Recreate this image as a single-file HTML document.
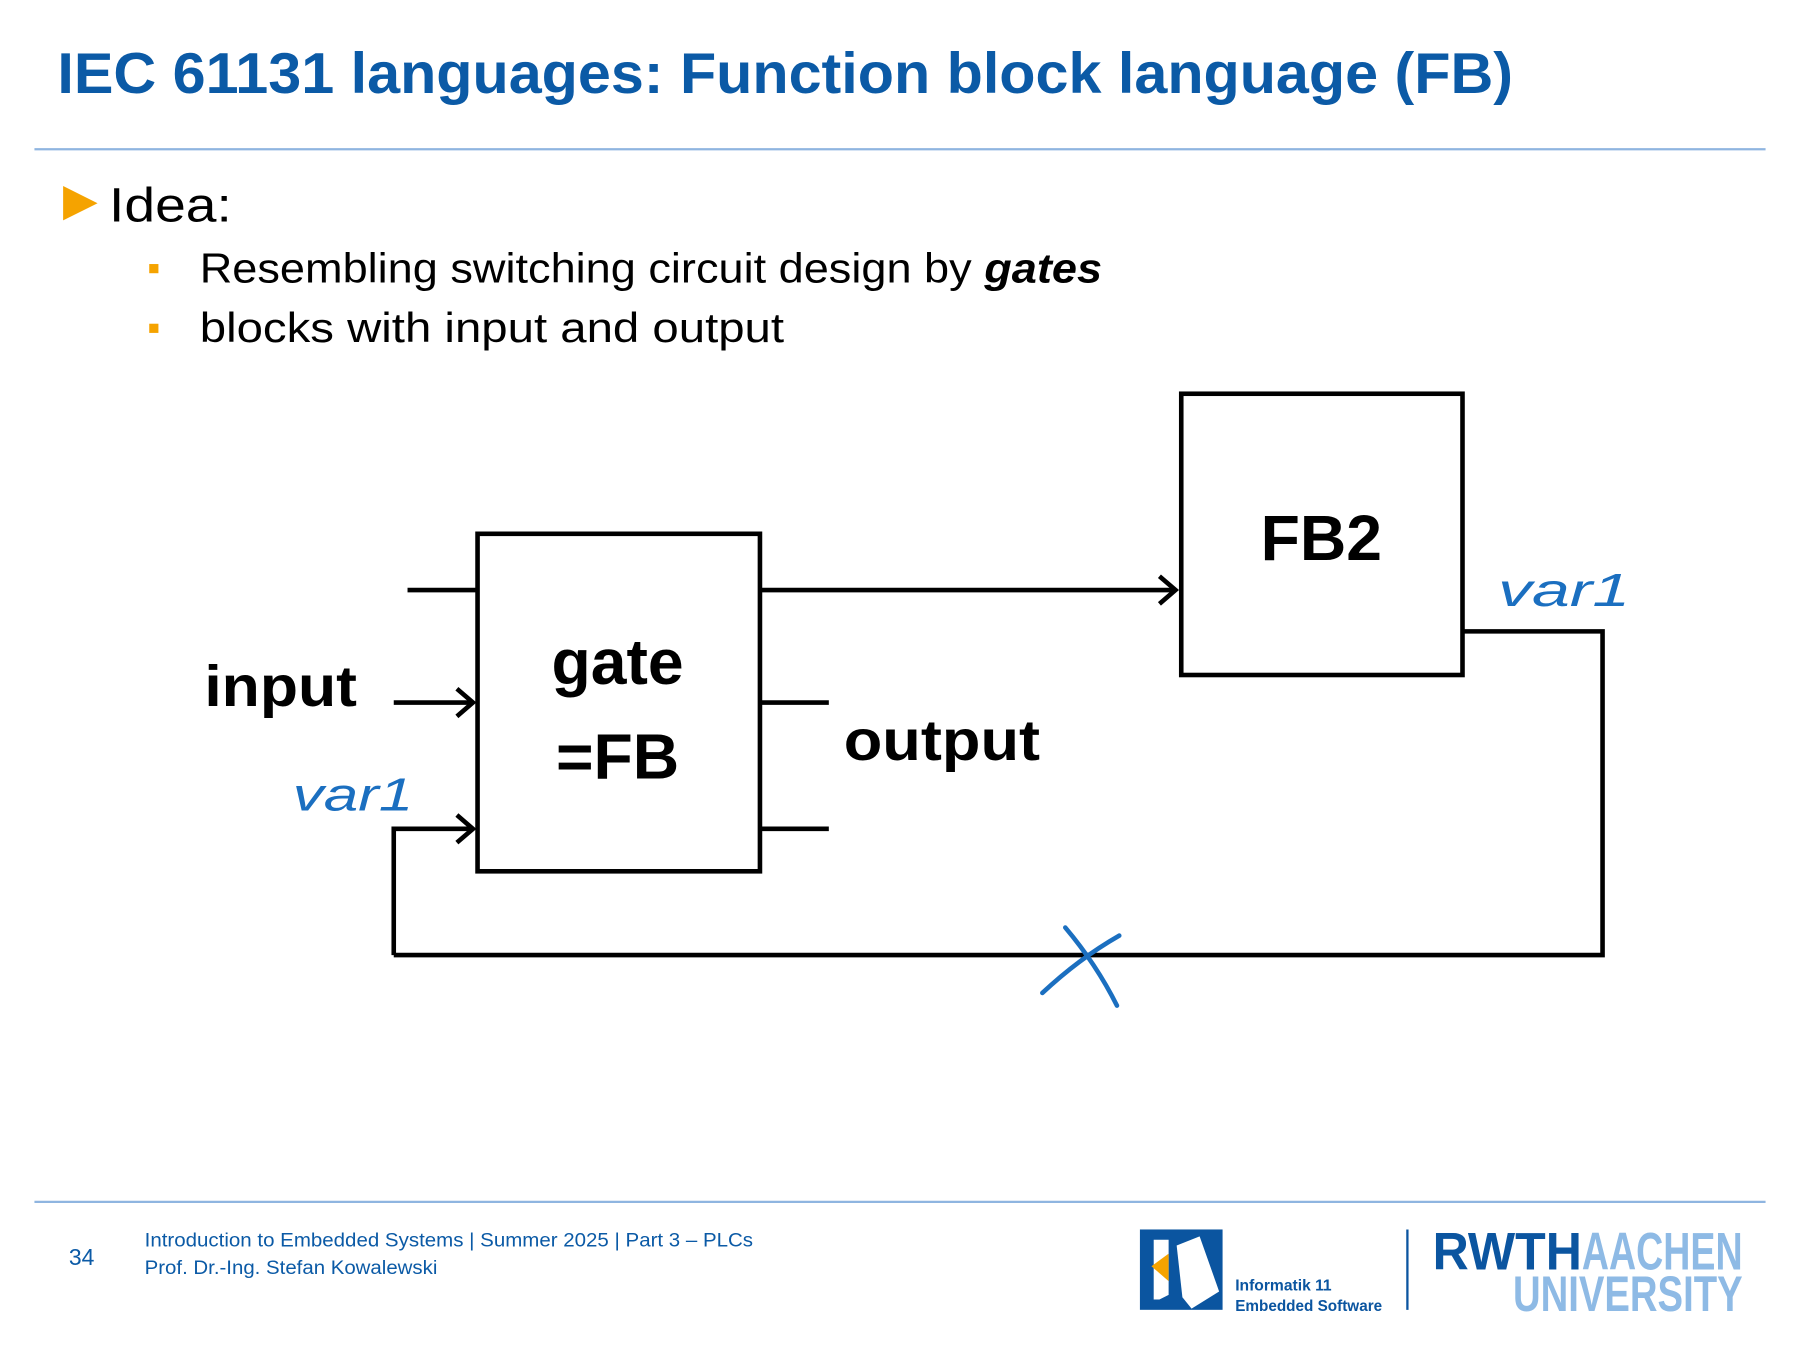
<!DOCTYPE html>
<html><head><meta charset="utf-8"><style>html,body{margin:0;padding:0;background:#fff}svg{display:block}</style></head>
<body>
<svg width="1800" height="1350" viewBox="0 0 1568 1176" xmlns="http://www.w3.org/2000/svg" font-family="Liberation Sans, sans-serif">
<rect width="1568" height="1176" fill="#fff"/>
<text x="50" y="81" font-size="50" font-weight="bold" fill="#0b5aa6" textLength="1268" lengthAdjust="spacingAndGlyphs">IEC 61131 languages: Function block language (FB)</text>
<line x1="30" y1="130" x2="1538" y2="130" stroke="#8fb5e0" stroke-width="2"/>
<polygon points="55,162 85,177 55,192" fill="#f5a300"/>
<text x="95" y="193" font-size="42" fill="#000" textLength="107" lengthAdjust="spacingAndGlyphs">Idea:</text>
<rect x="130" y="230" width="8" height="8" fill="#f5a300"/>
<rect x="130" y="282" width="8" height="8" fill="#f5a300"/>
<text x="174" y="246" font-size="36" fill="#000" textLength="786" lengthAdjust="spacingAndGlyphs">Resembling switching circuit design by <tspan font-weight="bold" font-style="italic">gates</tspan></text>
<text x="174" y="298" font-size="36" fill="#000" textLength="509" lengthAdjust="spacingAndGlyphs">blocks with input and output</text>
<g stroke="#000" stroke-width="4" fill="none">
<rect x="416" y="465" width="246" height="294"/>
<rect x="1029" y="343" width="245" height="245"/>
<line x1="355" y1="514" x2="416" y2="514"/>
<line x1="343" y1="612" x2="412" y2="612"/>
<polyline points="398,600 412,612 398,624"/>
<polyline points="343,832 343,722 412,722"/>
<polyline points="398,710 412,722 398,734"/>
<line x1="662" y1="612" x2="722" y2="612"/>
<line x1="662" y1="722" x2="722" y2="722"/>
<line x1="662" y1="514" x2="1024" y2="514"/>
<polyline points="1010,502 1024,514 1010,526"/>
<polyline points="1274,550 1396,550 1396,832 343,832"/>
</g>
<g font-weight="bold" fill="#000" text-anchor="middle">
<text x="538" y="596" font-size="56">gate</text>
<text x="538" y="678" font-size="56">=FB</text>
<text x="1151" y="488" font-size="56">FB2</text>
</g>
<text x="178" y="615" font-size="50" font-weight="bold" textLength="133" lengthAdjust="spacingAndGlyphs">input</text>
<text x="735" y="662" font-size="50" font-weight="bold" textLength="171" lengthAdjust="spacingAndGlyphs">output</text>
<g fill="#1b6fc0" font-style="italic" font-size="40">
<text x="255" y="706" textLength="105" lengthAdjust="spacingAndGlyphs">var1</text>
<text x="1305" y="528" textLength="115" lengthAdjust="spacingAndGlyphs">var1</text>
</g>
<g stroke="#1b6fc0" stroke-width="4" stroke-linecap="round" fill="none">
<path d="M928,808 Q955,840 973,876"/>
<path d="M908,865 Q940,835 975,815"/>
</g>
<line x1="30" y1="1047" x2="1538" y2="1047" stroke="#8fb5e0" stroke-width="2"/>
<text x="60" y="1102" font-size="20" fill="#0b5aa6">34</text>
<text x="126" y="1086" font-size="17" fill="#0b5aa6" textLength="530" lengthAdjust="spacingAndGlyphs">Introduction to Embedded Systems | Summer 2025 | Part 3 – PLCs</text>
<text x="126" y="1110" font-size="17" fill="#0b5aa6" textLength="255" lengthAdjust="spacingAndGlyphs">Prof. Dr.-Ing. Stefan Kowalewski</text>
<rect x="993" y="1071" width="72" height="70" fill="#0b55a0"/>
<polygon points="1005,1080 1018,1080 1018,1128 1010,1132 1005,1132" fill="#fff"/>
<polygon points="1025,1085 1045,1077 1062,1125 1038,1140 1030,1130" fill="#fff"/>
<polygon points="1003,1103 1018,1092 1018,1116" fill="#f5a300"/>
<text x="1076" y="1124" font-size="14" font-weight="bold" fill="#0b55a0" textLength="84" lengthAdjust="spacingAndGlyphs">Informatik 11</text>
<text x="1076" y="1142" font-size="14" font-weight="bold" fill="#0b55a0" textLength="128" lengthAdjust="spacingAndGlyphs">Embedded Software</text>
<line x1="1226" y1="1071" x2="1226" y2="1141" stroke="#0b55a0" stroke-width="2"/>
<text x="1248" y="1106" font-size="46" font-weight="bold" fill="#0b55a0" textLength="130" lengthAdjust="spacingAndGlyphs">RWTH</text>
<text x="1378" y="1106" font-size="46" font-weight="bold" fill="#8ebae5" textLength="140" lengthAdjust="spacingAndGlyphs">AACHEN</text>
<text x="1318" y="1142" font-size="44" font-weight="bold" fill="#8ebae5" textLength="200" lengthAdjust="spacingAndGlyphs">UNIVERSITY</text>
</svg>
</body></html>
